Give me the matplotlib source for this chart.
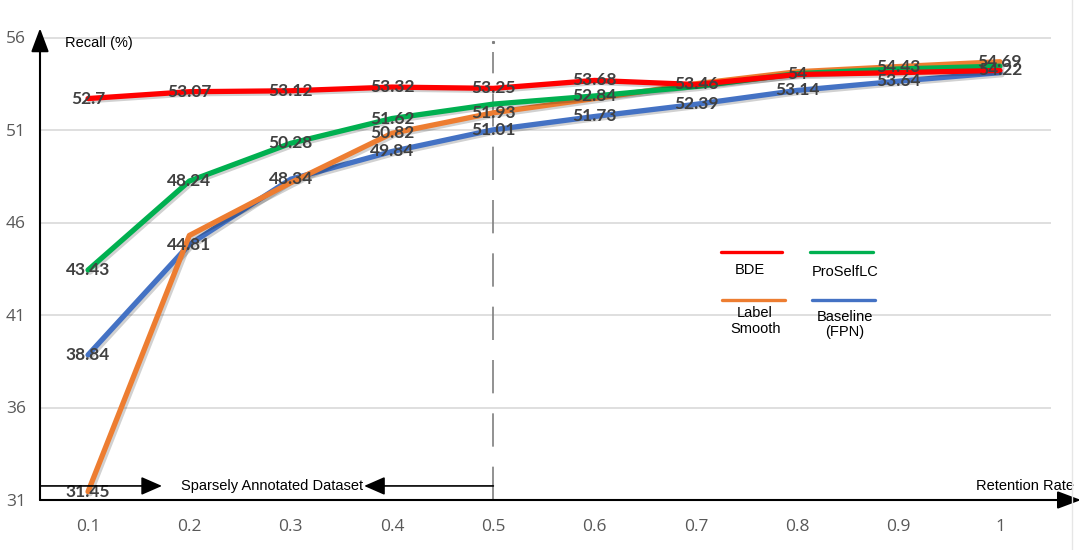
import matplotlib
matplotlib.use("Agg")
import matplotlib.pyplot as plt
import matplotlib.patheffects as pe
from matplotlib.lines import Line2D

# retention rate on the x axis
retention = [0.1, 0.2, 0.3, 0.4, 0.5, 0.6, 0.7, 0.8, 0.9, 1.0]

# recall (%) per method
bde = [52.7, 53.07, 53.12, 53.32, 53.25, 53.68, 53.46, 54.0, 54.1, 54.22]
proselflc = [43.43, 48.24, 50.28, 51.62, 52.4, 52.84, 53.35, 54.05, 54.3, 54.45]
label_smooth = [31.45, 45.3, 48.15, 50.82, 51.93, 52.7, 53.5, 54.15, 54.43, 54.69]
baseline = [38.84, 44.81, 48.34, 49.84, 51.01, 51.73, 52.39, 53.14, 53.64, 54.1]

# which points carry a value label in the original
bde_lab = [0, 1, 2, 3, 4, 5, 6, 7, 9]
proselflc_lab = [0, 1, 2, 3, 5]
label_smooth_lab = [0, 3, 4, 8, 9]
baseline_lab = [0, 1, 2, 3, 4, 5, 6, 7, 8]

y_ticks = [31, 36, 41, 46, 51, 56]
x_ticklabels = ["0.1", "0.2", "0.3", "0.4", "0.5", "0.6", "0.7", "0.8", "0.9", "1"]

RED = "#FF0000"
GREEN = "#00B050"
ORANGE = "#ED7D31"
BLUE = "#4472C4"

fig = plt.figure(figsize=(10.84, 5.5), dpi=100)
ax = fig.add_axes([40 / 1084, 50 / 550, 1041 / 1084, 478 / 550])

xlo, xhi = 0.0526, 1.08
ylo, yhi = 31, 31 + 478 / 18.5
ax.set_xlim(xlo, xhi)
ax.set_ylim(ylo, yhi)
for s in ax.spines.values():
    s.set_visible(False)

# gridlines stop at the category edge, like excel
ax.hlines(y_ticks[1:], xlo, 1.0506, color="#d9d9d9", lw=1.2, zorder=0)

ax.set_yticks(y_ticks)
ax.set_yticklabels([str(v) for v in y_ticks])
ax.set_xticks(retention)
ax.set_xticklabels(x_ticklabels)
ax.tick_params(axis="both", length=0, colors="#595959", labelsize=12.5)
ax.tick_params(axis="y", pad=10)
ax.tick_params(axis="x", pad=14)
for t in ax.get_xticklabels() + ax.get_yticklabels():
    t.set_family("Open Sans")

# dashed split at 0.5
ax.plot([0.5, 0.5], [31, 55.2], color="#7f7f7f", lw=1.2, linestyle=(0, (20, 12)), zorder=1)
ax.plot([0.5], [55.75], marker="s", ms=1.2, color="#7f7f7f", zorder=1)

shadow = [pe.SimpleLineShadow(offset=(1.5, -1.5), shadow_color="k", alpha=0.18), pe.Normal()]
series = [
    (baseline, BLUE),
    (label_smooth, ORANGE),
    (proselflc, GREEN),
    (bde, RED),
]
for vals, col in series:
    ax.plot(retention, vals, color=col, lw=3.8, solid_capstyle="round",
            solid_joinstyle="round", path_effects=shadow, zorder=3)

# value labels
for vals, idx in [(bde, bde_lab), (proselflc, proselflc_lab),
                  (label_smooth, label_smooth_lab), (baseline, baseline_lab)]:
    for i in idx:
        ax.text(retention[i], vals[i], format(vals[i], "g"), ha="center", va="center",
                fontsize=12.5, fontweight="bold", color="#404040", family="Lato", zorder=5)

# axis arrows
ax.annotate("", xy=(xlo, 56.5), xytext=(xlo, 31),
            arrowprops=dict(arrowstyle="-|>,head_length=0.8,head_width=0.3", color="black",
                            lw=1.5, mutation_scale=18, shrinkA=0, shrinkB=0),
            annotation_clip=False, zorder=6)
ax.annotate("", xy=(xhi, 31), xytext=(xlo, 31),
            arrowprops=dict(arrowstyle="-|>,head_length=0.8,head_width=0.3", color="black",
                            lw=1.5, mutation_scale=18, shrinkA=0, shrinkB=0),
            annotation_clip=False, zorder=6)

ax.text(0.0773, 55.72, "Recall (%)", ha="left", va="center", fontsize=10.5,
        family="Liberation Sans", color="black")
ax.text(1.073, 31.76, "Retention Rate", ha="right", va="center", fontsize=10.5,
        family="Liberation Sans", color="black")

# sparsely annotated range
ax.annotate("", xy=(0.173, 31.76), xytext=(xlo, 31.76),
            arrowprops=dict(arrowstyle="-|>,head_length=0.8,head_width=0.35", color="black",
                            lw=1.2, mutation_scale=16, shrinkA=0, shrinkB=0), zorder=6)
ax.annotate("", xy=(0.3725, 31.76), xytext=(0.5, 31.76),
            arrowprops=dict(arrowstyle="-|>,head_length=0.8,head_width=0.35", color="black",
                            lw=1.2, mutation_scale=16, shrinkA=0, shrinkB=0), zorder=6)
ax.text(0.2813, 31.76, "Sparsely Annotated Dataset", ha="center", va="center",
        fontsize=10.5, family="Liberation Sans", color="black")

# hand-made legend inside the plot
leg = [
    (RED, (0.654, 0.713), 0.519, "BDE", (0.682, 0.481)),
    (GREEN, (0.740, 0.800), 0.518, "ProSelfLC", (0.773, 0.477)),
    (ORANGE, (0.655, 0.716), 0.419, "Label\nSmooth", (0.687, 0.374)),
    (BLUE, (0.742, 0.802), 0.418, "Baseline\n(FPN)", (0.773, 0.367)),
]
for col, xs, yl, name, tpos in leg:
    ax.plot(xs, [yl, yl], color=col, lw=2.4, solid_capstyle="round",
            transform=ax.transAxes, zorder=4)
    ax.text(tpos[0], tpos[1], name, transform=ax.transAxes, ha="center", va="center",
            fontsize=10.5, family="Liberation Sans", color="black", linespacing=1.15)

# faint outer border on the right
fig.add_artist(Line2D([1072 / 1084, 1072 / 1084], [0, 1], color="#e6e6e6", lw=1))

fig.savefig("out.png", dpi=100)
